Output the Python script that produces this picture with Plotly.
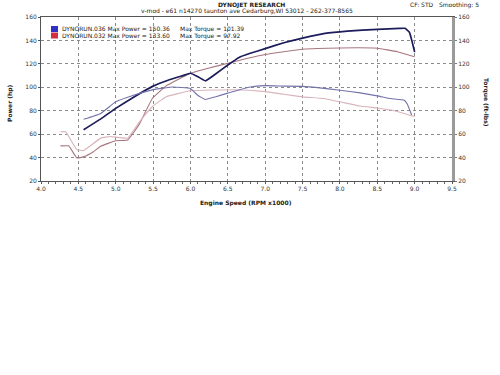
import plotly.graph_objects as go

# ---------------- data ----------------
rpm_pow036 = [4.57, 4.8, 5.0, 5.25, 5.5, 5.7, 5.9, 6.0, 6.1, 6.2, 6.35, 6.5, 6.65, 6.8, 7.0,
              7.25, 7.5, 7.8, 8.1, 8.5, 8.8, 8.87, 8.93, 8.97, 9.0]
pow036 = [63.7, 73, 82, 92, 101, 106, 110, 112, 109, 105.5, 112, 119, 125.5, 129, 133,
          138, 142, 146, 148, 149.5, 150.3, 150.36, 147, 138, 130]

rpm_tq036 = [4.57, 4.8, 5.0, 5.23, 5.5, 5.76, 6.0, 6.1, 6.2, 6.34, 6.5, 6.78, 7.0, 7.25,
             7.5, 7.7, 8.0, 8.27, 8.5, 8.68, 8.86, 8.9, 8.96]
tq036 = [72.7, 77.7, 87.6, 93, 98, 100.3, 99, 93, 89.6, 92, 95, 100, 101.39, 101,
         100.8, 99.7, 97.5, 95.2, 92.7, 90.4, 89, 86, 76.3]

rpm_pow032 = [4.26, 4.37, 4.48, 4.57, 4.7, 4.8, 5.0, 5.16, 5.32, 5.49, 5.67, 6.0, 6.25,
              6.5, 6.75, 7.0, 7.5, 8.0, 8.5, 8.77, 9.0]
pow032 = [50, 50, 39.7, 40.6, 45, 49.6, 54.4, 55, 69, 90.4, 101, 112, 116.5,
          120.5, 124.5, 128, 132.5, 133.6, 133.3, 130.4, 126]

rpm_tq032 = [4.26, 4.33, 4.48, 4.57, 4.8, 4.93, 5.16, 5.32, 5.49, 5.67, 6.0, 6.6, 7.0,
             7.25, 7.5, 7.78, 8.0, 8.27, 8.5, 8.68, 8.86, 9.0]
tq032 = [62, 62, 46.8, 46, 56.6, 58, 56.6, 70.7, 83.4, 91.8, 97, 97.92, 96.3,
         94, 91.8, 90.4, 87.6, 84, 82.3, 80.6, 77.7, 75]

run_names = ["DYNORUN.036", "DYNORUN.032"]
x_ticks = [4.0, 4.5, 5.0, 5.5, 6.0, 6.5, 7.0, 7.5, 8.0, 8.5, 9.0, 9.5]
y_ticks = [20, 40, 60, 80, 100, 120, 140, 160]

# ---------------- figure ----------------
FONT = "DejaVu Sans"
W, H = 500, 375
ML, MR, MT, MB = 41, 48, 17, 194
PW, PH = W - ML - MR, H - MT - MB


def px(x):
    return (x - ML) / PW


def py(y):
    return (H - MB - y) / PH


fig = go.Figure()
fig.add_trace(go.Scatter(x=rpm_tq032, y=tq032, yaxis="y2", mode="lines",
                         line=dict(color="#d8b4bb", width=1.1, shape="spline", smoothing=0.3)))
fig.add_trace(go.Scatter(x=rpm_pow032, y=pow032, yaxis="y", mode="lines",
                         line=dict(color="#a8767f", width=1.1, shape="spline", smoothing=0.3)))
fig.add_trace(go.Scatter(x=rpm_tq036, y=tq036, yaxis="y2", mode="lines",
                         line=dict(color="#7373aa", width=1.1, shape="spline", smoothing=0.3)))
fig.add_trace(go.Scatter(x=rpm_pow036, y=pow036, yaxis="y", mode="lines",
                         line=dict(color="#1c1c5c", width=1.7, shape="spline", smoothing=0.3)))

tickfont = dict(family=FONT, size=6, color="#333")
fig.update_layout(
    width=W, height=H, autosize=False,
    margin=dict(l=ML, r=MR, t=MT, b=MB, pad=0),
    paper_bgcolor="white", plot_bgcolor="white",
    showlegend=False,
    xaxis=dict(range=[4.0, 9.5], tickvals=x_ticks, ticktext=[f"{v:.1f}" for v in x_ticks],
               showgrid=True, gridcolor="#8a8a8a", griddash="dot", gridwidth=1,
               showline=True, linecolor="#555", linewidth=1, mirror=True,
               ticks="outside", ticklen=2, tickcolor="#555", tickfont=tickfont,
               minor=dict(dtick=0.1, ticks="outside", ticklen=2, tickcolor="#666"),
               zeroline=False),
    yaxis=dict(range=[20, 160], tickvals=y_ticks,
               showgrid=True, gridcolor="#8a8a8a", griddash="dot", gridwidth=1,
               showline=True, linecolor="#555", linewidth=1,
               ticks="outside", ticklen=2, tickcolor="#555", tickfont=tickfont,
               zeroline=False),
    yaxis2=dict(range=[20, 160], tickvals=y_ticks, overlaying="y", side="right",
                showgrid=False, showline=True, linecolor="#9a9a9a", linewidth=3,
                ticks="outside", ticklen=2, tickcolor="#777", tickfont=tickfont,
                zeroline=False),
)

annots = []
def txt(x, y, s, size=6, anchor="center", angle=0, color="#222", bold=False):
    annots.append(dict(x=px(x), y=py(y), xref="paper", yref="paper", text=(f"<b>{s}</b>" if bold else s),
                       showarrow=False, xanchor=anchor, yanchor="middle", textangle=angle,
                       font=dict(family=FONT, size=size, color=color)))

txt(251, 4.5, "DYNOJET RESEARCH", bold=True)
txt(247, 11, "v-mod - e61 n14270 taunton ave Cedarburg,WI 53012 - 262-377-8565")
txt(444, 4.5, "CF: STD   Smoothing: 5")
txt(246, 203, "Engine Speed (RPM x1000)", bold=True)
txt(10, 103, "Power (hp)", angle=-90, bold=True)
txt(486, 103, "Torque (ft-lbs)", angle=90, bold=True)

txt(60, 29, f"{run_names[0]} Max Power = {max(pow036):.2f}", anchor="left")
txt(178, 29, f"Max Torque = {max(tq036):.2f}", anchor="left")
txt(60, 35.5, f"{run_names[1]} Max Power = {max(pow032):.2f}", anchor="left")
txt(178, 35.5, f"Max Torque = {max(tq032):.2f}", anchor="left")
fig.update_layout(annotations=annots)

fig.update_layout(shapes=[
    dict(type="rect", xref="paper", yref="paper", x0=px(51), x1=px(58), y0=py(26), y1=py(32),
         fillcolor="#3030c8", line=dict(width=0)),
    dict(type="rect", xref="paper", yref="paper", x0=px(51), x1=px(58), y0=py(32.5), y1=py(38.5),
         fillcolor="#d03040", line=dict(width=0)),
])

fig.write_html("out.html")
